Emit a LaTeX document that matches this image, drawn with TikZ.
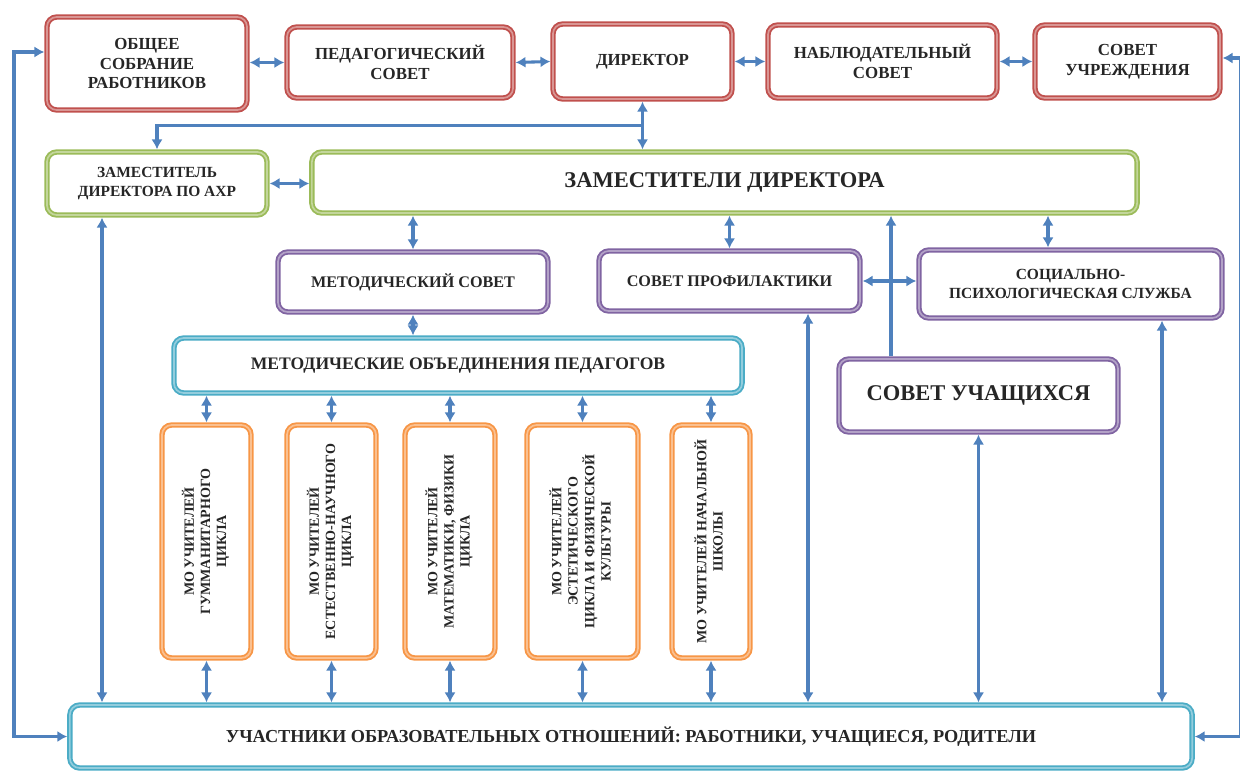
\documentclass[tikz,border=0pt]{standalone}
\usepackage{fontspec}
\setmainfont{Liberation Serif}
\usepackage{tikz}
\usetikzlibrary{arrows.meta}
\usetikzlibrary{positioning,calc}
\usepackage{xcolor}

\definecolor{boxred}{HTML}{C0504D}
\definecolor{boxgreen}{HTML}{9BBB59}
\definecolor{boxviolet}{HTML}{8064A2}
\definecolor{boxcyan}{HTML}{4BACC6}
\definecolor{boxorange}{HTML}{F79646}
\definecolor{linkblue}{HTML}{4F81BD}

\newcommand{\vlabel}[1]{\rotatebox{90}{\begin{tabular}{@{}c@{}}#1\end{tabular}}}

\tikzset{
  orgbox/.style={
    draw,
    fill=white,
    rounded corners=7pt,
    line width=3.8pt,
    align=center,
    inner sep=2pt,
    text=black!85,
    font=\bfseries\fontsize{12}{14}\selectfont
  },
  redbox/.style={orgbox, draw=boxred, postaction={draw=boxred!60!white, line width=1.2pt}},
  greenbox/.style={orgbox, draw=boxgreen, postaction={draw=boxgreen!60!white, line width=1.2pt}},
  violetbox/.style={orgbox, draw=boxviolet, postaction={draw=boxviolet!60!white, line width=1.2pt}},
  cyanbox/.style={orgbox, draw=boxcyan, postaction={draw=boxcyan!60!white, line width=1.2pt}},
  orangebox/.style={orgbox, draw=boxorange, postaction={draw=boxorange!60!white, line width=1.2pt},
    font=\bfseries\fontsize{10}{11.5}\selectfont},
  link/.style={draw=linkblue, line width=2.2pt, <->},
  oneway/.style={draw=linkblue, line width=2.2pt, ->}
}

\begin{document}
\begin{tikzpicture}[x=0.025cm, y=-0.025cm, >={Latex[length=7pt, width=8pt]}]
  \useasboundingbox (0,0) rectangle (1240,770);

  % top row: councils and director
  \node[redbox, minimum width=5cm, minimum height=2.325cm] (sobr) at (147,63.5) {ОБЩЕЕ\\СОБРАНИЕ\\РАБОТНИКОВ};
  \node[redbox, minimum width=5.65cm, minimum height=1.775cm] (ped) at (400,62.5) {ПЕДАГОГИЧЕСКИЙ\\СОВЕТ};
  \node[redbox, minimum width=4.475cm, minimum height=1.875cm] (dir) at (642.5,61.5) {ДИРЕКТОР};
  \node[redbox, minimum width=5.725cm, minimum height=1.825cm] (nabl) at (882.5,61.5) {НАБЛЮДАТЕЛЬНЫЙ\\СОВЕТ};
  \node[redbox, minimum width=4.625cm, minimum height=1.825cm] (uchr) at (1127.5,61.5) {СОВЕТ\\УЧРЕЖДЕНИЯ};

  % deputies
  \node[greenbox, minimum width=5.5cm, minimum height=1.575cm,
        font=\bfseries\fontsize{11}{13}\selectfont] (ahr) at (157,183.5) {ЗАМЕСТИТЕЛЬ\\ДИРЕКТОРА ПО АХР};
  \node[greenbox, minimum width=20.625cm, minimum height=1.525cm,
        font=\bfseries\fontsize{16}{18}\selectfont] (zam) at (724.5,182.5) {ЗАМЕСТИТЕЛИ ДИРЕКТОРА};

  % councils and services
  \node[violetbox, minimum width=6.75cm, minimum height=1.5cm,
        font=\bfseries\fontsize{11.5}{13.5}\selectfont] (metsov) at (413,282) {МЕТОДИЧЕСКИЙ СОВЕТ};
  \node[violetbox, minimum width=6.525cm, minimum height=1.5cm,
        font=\bfseries\fontsize{11.5}{13.5}\selectfont] (prof) at (729.5,281) {СОВЕТ ПРОФИЛАКТИКИ};
  \node[violetbox, minimum width=7.575cm, minimum height=1.7cm,
        font=\bfseries\fontsize{11}{13.5}\selectfont] (soc) at (1070.5,284) {СОЦИАЛЬНО-\\ПСИХОЛОГИЧЕСКАЯ СЛУЖБА};
  \node[cyanbox, minimum width=14.2cm, minimum height=1.375cm,
        font=\bfseries\fontsize{12.5}{14}\selectfont] (mo) at (458,365.5) {МЕТОДИЧЕСКИЕ ОБЪЕДИНЕНИЯ ПЕДАГОГОВ};
  \node[violetbox, minimum width=6.975cm, minimum height=1.825cm,
        font=\bfseries\fontsize{16}{18}\selectfont] (uch) at (978.5,395.5) {СОВЕТ УЧАЩИХСЯ};

  % teacher groups
  \foreach \i/\x/\w/\t in {
      1/206.5/2.225/{МО УЧИТЕЛЕЙ\\ГУММАНИТАРНОГО\\ЦИКЛА},
      2/331.5/2.225/{МО УЧИТЕЛЕЙ\\ЕСТЕСТВЕННО-НАУЧНОГО\\ЦИКЛА},
      3/450/2.25/{МО УЧИТЕЛЕЙ\\МАТЕМАТИКИ, ФИЗИКИ\\ЦИКЛА},
      4/582.5/2.775/{МО УЧИТЕЛЕЙ\\ЭСТЕТИЧЕСКОГО\\ЦИКЛА И ФИЗИЧЕСКОЙ\\КУЛЬТУРЫ},
      5/711/1.95/{МО УЧИТЕЛЕЙ НАЧАЛЬНОЙ\\ШКОЛЫ}} {
    \node[orangebox, minimum width=\w cm, minimum height=5.825cm] (o\i) at (\x,541.5) {\vlabel{\t}};
  }

  % participants
  \node[cyanbox, minimum width=28.05cm, minimum height=1.575cm,
        font=\bfseries\fontsize{13}{15}\selectfont] (bot) at (631,736.5) {УЧАСТНИКИ ОБРАЗОВАТЕЛЬНЫХ ОТНОШЕНИЙ: РАБОТНИКИ, УЧАЩИЕСЯ, РОДИТЕЛИ};

  % top row links
  \draw[link] (sobr.east |- ped.west) -- (ped.west);
  \draw[link] (ped.east) -- (dir.west);
  \draw[link] (dir.east) -- (nabl.west);
  \draw[link] (nabl.east) -- (uchr.west);

  % director to deputies
  \draw[link] (dir.south) -- (dir.south |- zam.north);
  \coordinate (fork) at ($(dir.south)!0.5!(dir.south |- zam.north)$);
  \draw[oneway] (fork) -| (ahr.north);
  \draw[link] (ahr.east) -- (ahr.east -| zam.west);

  % deputies to councils
  \coordinate (xsoc) at (1048,0);
  \draw[link] (metsov.north) -- (metsov.north |- zam.south);
  \draw[link] (prof.north) -- (prof.north |- zam.south);
  \draw[link] (xsoc |- soc.north) -- (xsoc |- zam.south);
  \draw[link] (prof.east) -- (prof.east -| soc.west);
  \draw[link] (metsov.south) -- (metsov.south |- mo.north);
  \coordinate (xuch) at (891,0);
  \draw[oneway] (xuch |- uch.north) -- (xuch |- zam.south);

  % teacher groups
  \foreach \i in {1,...,5} {
    \draw[link] (o\i.north) -- (o\i.north |- mo.south);
    \draw[link] (o\i.south) -- (o\i.south |- bot.north);
  }

  % down to participants
  \coordinate (xahr) at (102,0);
  \coordinate (xprof) at (808,0);
  \coordinate (xsocd) at (1162,0);
  \draw[link] (xahr |- ahr.south) -- (xahr |- bot.north);
  \draw[link] (xprof |- prof.south) -- (xprof |- bot.north);
  \draw[link] (uch.south) -- (uch.south |- bot.north);
  \draw[link] (xsocd |- soc.south) -- (xsocd |- bot.north);

  % outer loops
  \coordinate (lt) at (14,52);
  \coordinate (rt) at (1241,58);
  \draw[link] (bot.west) -| (lt) -- (lt -| sobr.west);
  \draw[link] (bot.east) -| (rt) -- (rt -| uchr.east);
\end{tikzpicture}
\end{document}
